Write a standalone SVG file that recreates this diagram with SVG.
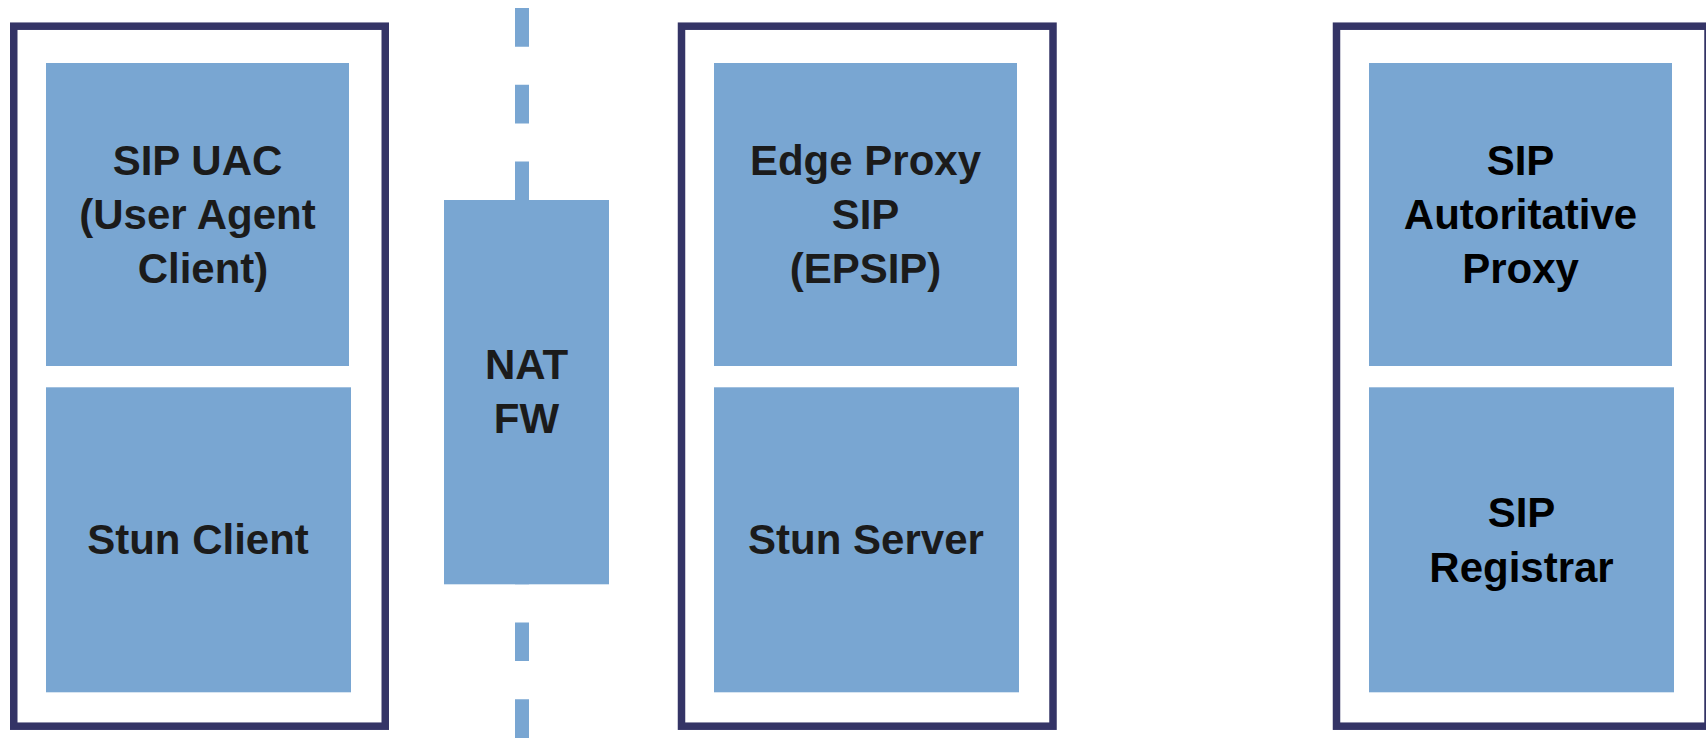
<svg xmlns="http://www.w3.org/2000/svg" width="1706" height="738" viewBox="0 0 1706 738">
  <style>
    .frame { fill: #ffffff; stroke: #343466; stroke-width: 7.5; }
    .box { fill: #79a6d2; }
    .lbl { font-family: "Liberation Sans", Arial, Helvetica, sans-serif; font-weight: bold; font-size: 42px; fill: #1b1b1b; text-anchor: middle; }
    .lbl.dark { fill: #000000; }
    .boundary { stroke: #79a6d2; stroke-width: 14; stroke-dasharray: 38.7 38.1; fill: none; }
  </style>
  <rect width="1706" height="738" fill="#ffffff"/>

  <!-- network boundary crossing the NAT -->
  <g id="connectors">
    <line class="boundary" x1="522" y1="8" x2="522" y2="738"/>
  </g>

  <!-- client host -->
  <g id="client">
    <rect class="frame" x="13.75" y="26.2" width="371.5" height="700"/>
    <g id="sip-uac">
      <rect class="box" x="46" y="63" width="303" height="303"/>
      <text class="lbl" x="197.5" y="175">SIP UAC</text>
      <text class="lbl" x="197.5" y="229.3">(User Agent</text>
      <text class="lbl" x="203" y="283.3">Client)</text>
    </g>
    <g id="stun-client">
      <rect class="box" x="46" y="387.3" width="305" height="305"/>
      <text class="lbl" x="198" y="554">Stun Client</text>
    </g>
  </g>

  <!-- NAT / firewall -->
  <g id="nat-fw">
    <rect class="box" x="444" y="200" width="165" height="384.3"/>
    <text class="lbl" x="526.5" y="379.3">NAT</text>
    <text class="lbl" x="526.5" y="432.7">FW</text>
  </g>

  <!-- edge proxy host -->
  <g id="edge">
    <rect class="frame" x="681.5" y="26.2" width="371.5" height="700"/>
    <g id="epsip">
      <rect class="box" x="714" y="63" width="303" height="303"/>
      <text class="lbl" x="865.5" y="175">Edge Proxy</text>
      <text class="lbl" x="865.5" y="229.3">SIP</text>
      <text class="lbl" x="865.5" y="283.3">(EPSIP)</text>
    </g>
    <g id="stun-server">
      <rect class="box" x="714" y="387.3" width="305" height="305"/>
      <text class="lbl" x="866" y="554">Stun Server</text>
    </g>
  </g>

  <!-- core SIP host -->
  <g id="core">
    <rect class="frame" x="1336.5" y="26.2" width="371.5" height="700"/>
    <g id="auth-proxy">
      <rect class="box" x="1369" y="63" width="303" height="303"/>
      <text class="lbl dark" x="1520.5" y="175">SIP</text>
      <text class="lbl dark" x="1520.5" y="229.3">Autoritative</text>
      <text class="lbl dark" x="1520.5" y="283.3">Proxy</text>
    </g>
    <g id="registrar">
      <rect class="box" x="1369" y="387.3" width="305" height="305"/>
      <text class="lbl dark" x="1521.5" y="526.7">SIP</text>
      <text class="lbl dark" x="1521.5" y="581.7">Registrar</text>
    </g>
  </g>
</svg>
